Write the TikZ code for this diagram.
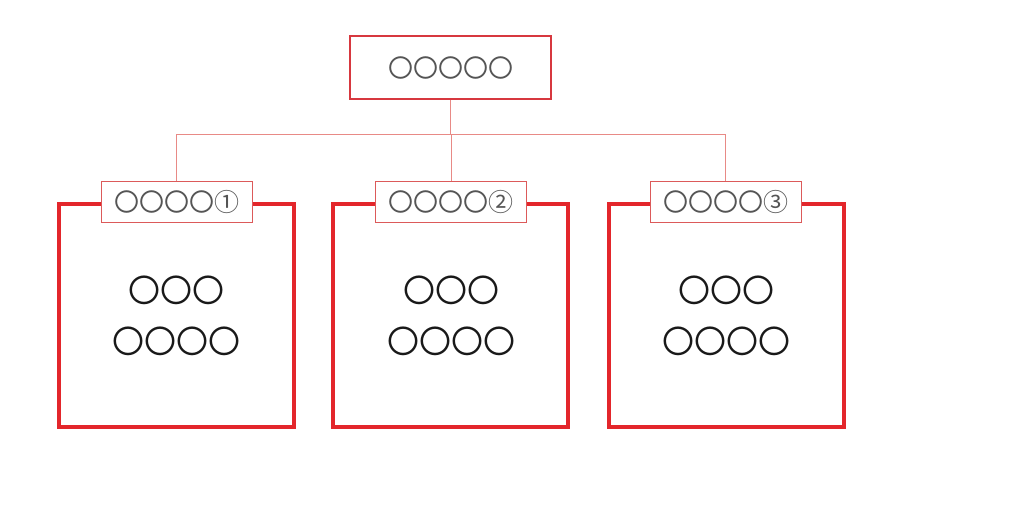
\documentclass[tikz,border=0pt]{standalone}
\usepackage{fontspec}
\newfontfamily\jp{Noto Sans CJK JP}
\definecolor{boxred}{HTML}{E3262B}
\definecolor{topred}{HTML}{D7383F}
\definecolor{linered}{HTML}{E88A86}
\definecolor{lblred}{HTML}{DC5A5A}
\definecolor{lbltext}{HTML}{555555}
\tikzset{
  topbox/.style={draw=topred, line width=2pt, fill=white, minimum width=201pt, minimum height=63pt, inner sep=0pt, font=\jp\fontsize{25}{25}\selectfont, text=lbltext},
  lblbox/.style={draw=lblred, line width=1pt, fill=white, minimum width=151pt, minimum height=41pt, inner sep=0pt, font=\jp\fontsize{25}{25}\selectfont, text=lbltext},
  bigbox/.style={draw=boxred, line width=4pt, minimum width=235pt, minimum height=223pt, inner sep=0pt},
  content/.style={font=\jp\fontsize{32}{32}\selectfont, text=black!90, inner sep=0pt},
  conn/.style={draw=linered, line width=1pt}
}
\begin{document}
\begin{tikzpicture}[x=1pt,y=-1pt]
\useasboundingbox (0,0) rectangle (1024,512);
% big boxes
\node[bigbox] (b1) at (176.5,315.5) {};
\node[bigbox] (b2) at (450.5,315.5) {};
\node[bigbox] (b3) at (726.5,315.5) {};
% top box
\node[topbox] (top) at (450.5,67.5) {〇〇〇〇〇};
% label boxes
\node[lblbox] (l1) at (176.5,201.5) {〇〇〇〇①};
\node[lblbox] (l2) at (451,201.5) {〇〇〇〇②};
\node[lblbox] (l3) at (725.5,201.5) {〇〇〇〇③};
% connectors
\coordinate (j) at (451,134);
\draw[conn] (top.south) -- (top.south |- j);
\draw[conn] (l1.north) -- (l1.north |- j) -- (l3.north |- j) -- (l3.north);
\draw[conn] (l2.north |- j) -- (l2.north);
% contents
\node[content] (c1a) at (176,290) {〇〇〇};
\node[content] (c1b) at (176,341) {〇〇〇〇};
\node[content] (c2a) at (451,290) {〇〇〇};
\node[content] (c2b) at (451,341) {〇〇〇〇};
\node[content] (c3a) at (726,290) {〇〇〇};
\node[content] (c3b) at (726,341) {〇〇〇〇};
\end{tikzpicture}
\end{document}
